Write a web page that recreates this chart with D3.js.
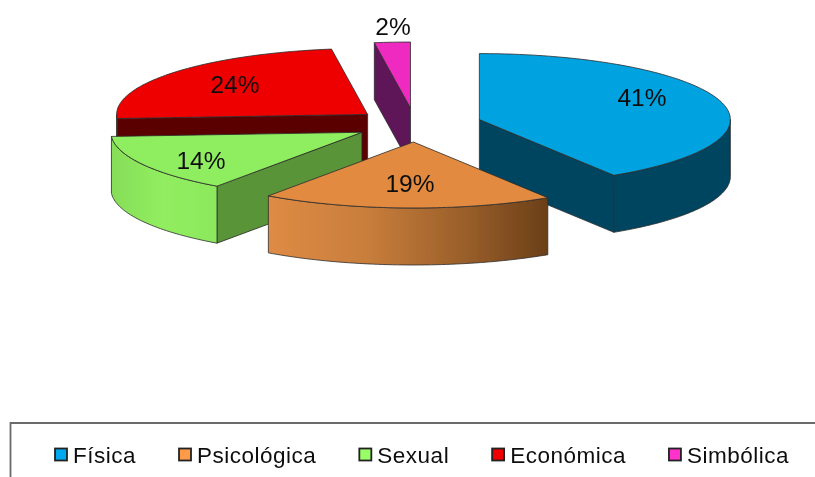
<!DOCTYPE html>
<html>
<head>
<meta charset="utf-8">
<script src="https://cdnjs.cloudflare.com/ajax/libs/d3/7.8.5/d3.min.js"></script>
<style>
html,body{margin:0;padding:0;background:#fff;}
svg{display:block;}
text{font-family:"Liberation Sans",Arial,sans-serif;fill:#111;}
</style>
</head>
<body>
<svg id="chart" width="815" height="477"></svg>
<script>
const categories = ["Física","Psicológica","Sexual","Económica","Simbólica"];
const values = [41, 18.8, 14.2, 23.7, 2.3];
const explode = [0.267, 0.265, 0.242, 0.243, 0.25];
const topColors = ["#00a2e0","#e28a40","#8fee5f","#ee0000","#ee2cc0"];
const wallColors = ["#00445f","#6b3f18","#5a9438","#5a0000","#5f1458"];
const legendColors = ["#00a8f0","#ff9a4a","#99ff66","#f00000","#ff33cc"];
const rimStops = [
  [["0%","#00445f"],["100%","#00445f"]],
  [["0%","#de8b45"],["35%","#c97e3c"],["70%","#9a5f2a"],["100%","#6b3f18"]],
  [["0%","#86de58"],["50%","#92ee60"],["100%","#8ce85c"]],
  [["0%","#5a0000"],["100%","#5a0000"]],
  [["0%","#5f1458"],["100%","#5f1458"]]
];
const labelPos = [[642,97],[410,183],[201,160],[235,84],[393,26]];

const depth = 57;
const x = d3.scaleLinear().domain([-1,1]).range([415-251,415+251]);
const y = d3.scaleLinear().domain([-1,1]).range([124.5-66,124.5+66]);

const svg = d3.select("#chart");
const defs = svg.append("defs");
const blur = defs.append("filter").attr("id","soft").attr("x","-5%").attr("y","-5%").attr("width","110%").attr("height","110%");
blur.append("feGaussianBlur").attr("stdDeviation",0.45);

const pieGen = d3.pie().sort(null).value(d=>d);
const arcs = pieGen(values).map((a,i)=>{
  const mid=(a.startAngle+a.endAngle)/2;
  const c=d3.pointRadial(mid,explode[i]);
  return {i,a0:a.startAngle,a1:a.endAngle,cx:c[0],cy:c[1],mid};
});

const line = d3.line();
const pt=(s,ang,r,dy=0)=>{
  const p=d3.pointRadial(ang,r);
  return [x(s.cx+p[0]),y(s.cy+p[1])+dy];
};
const sample=(a,b)=>{
  const n=Math.max(2,Math.ceil((b-a)/0.02));
  return d3.range(n+1).map(k=>a+(b-a)*k/n);
};

arcs.forEach(s=>{
  const g=defs.append("linearGradient").attr("id","rim"+s.i)
    .attr("gradientUnits","objectBoundingBox").attr("x1",0).attr("x2",1).attr("y1",0).attr("y2",0);
  rimStops[s.i].forEach(st=>g.append("stop").attr("offset",st[0]).attr("stop-color",st[1]));
});

const root = svg.append("g").attr("filter","url(#soft)");
const order = arcs.slice().sort((p,q)=>y(p.cy)-y(q.cy));
const stroke="#2c2c2c", sw=0.8;

order.forEach(s=>{
  const g=root.append("g").attr("class","slice");
  // radial walls: only the ones facing the viewer
  const visible=[];
  if(s.a0>Math.PI) visible.push(s.a0);
  if(s.a1<Math.PI) visible.push(s.a1);
  visible.forEach(ang=>{
    const c=pt(s,ang,0), e=pt(s,ang,1), c2=pt(s,ang,0,depth), e2=pt(s,ang,1,depth);
    g.append("path").attr("d",line([c,e,e2,c2])+"Z")
      .attr("fill",wallColors[s.i]).attr("stroke",stroke).attr("stroke-width",sw);
  });
  // outer rim: only the front-facing part of the arc
  const lo=Math.max(s.a0,Math.PI/2), hi=Math.min(s.a1,Math.PI*1.5);
  if(hi>lo){
    const ts=sample(lo,hi);
    const pts=ts.map(t=>pt(s,t,1)).concat(ts.slice().reverse().map(t=>pt(s,t,1,depth)));
    g.append("path").attr("d",line(pts)+"Z")
      .attr("fill","url(#rim"+s.i+")").attr("stroke",stroke).attr("stroke-width",sw);
  }
  // top face
  const topPts=[pt(s,s.a0,0)].concat(sample(s.a0,s.a1).map(t=>pt(s,t,1)));
  g.append("path").attr("d",line(topPts)+"Z")
    .attr("fill",topColors[s.i]).attr("stroke",stroke).attr("stroke-width",sw);
});

// percentage labels
const fmt=d3.format(".0f");
const total=d3.sum(values);
const labels=svg.append("g").attr("filter","url(#soft)");
values.forEach((v,i)=>{
  labels.append("text").attr("x",labelPos[i][0]).attr("y",labelPos[i][1])
    .attr("text-anchor","middle").attr("dominant-baseline","central")
    .attr("font-size",24.5).text(fmt(v/total*100)+"%");
});

// legend
const leg=svg.append("g").attr("filter","url(#soft)");
leg.append("path").attr("d","M815,423H10.5V477").attr("fill","none").attr("stroke","#6a6a6a").attr("stroke-width",1.8);
let cursor=54;
categories.forEach((c,i)=>{
  leg.append("rect").attr("x",cursor+1).attr("y",448.5).attr("width",12).attr("height",12)
    .attr("fill",legendColors[i]).attr("stroke","#222").attr("stroke-width",1.8);
  const t=leg.append("text").attr("x",cursor+19).attr("y",462.5)
    .attr("font-size",22.5).attr("letter-spacing",0.5).text(c);
  cursor+=19+t.node().getComputedTextLength()+42;
});
</script>
</body>
</html>
